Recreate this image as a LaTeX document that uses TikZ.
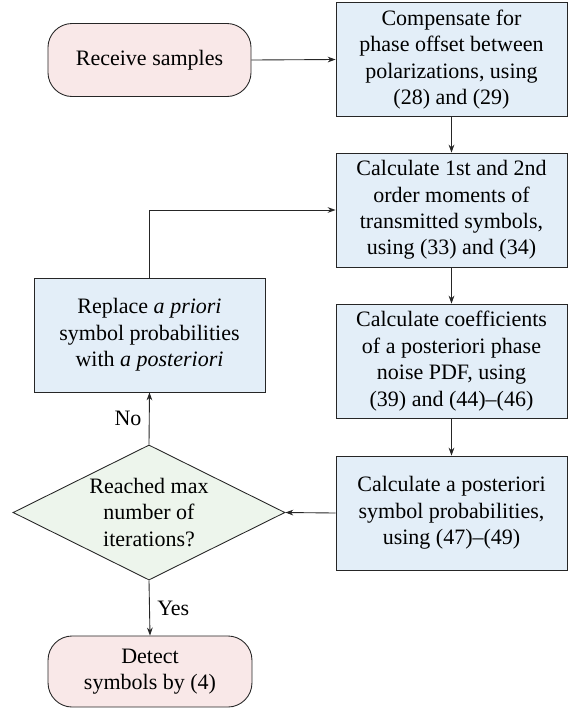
\documentclass[tikz,border=0pt]{standalone}
\usepackage{fontspec}
\setmainfont{Liberation Serif}
\usetikzlibrary{shapes.geometric,arrows.meta}
\definecolor{pinkfill}{RGB}{249,232,232}
\definecolor{bluefill}{RGB}{227,238,248}
\definecolor{greenfill}{RGB}{237,245,236}
\begin{document}
\begin{tikzpicture}[x=0.4545pt,y=-0.4545pt,
  proc/.style={draw=black!85, fill=bluefill, rectangle, align=center, inner sep=0pt,
     minimum width=105pt, minimum height=51.8pt},
  term/.style={draw=black!85, fill=pinkfill, rectangle, rounded corners=11pt, align=center, inner sep=0pt},
  decis/.style={draw=black!85, fill=greenfill, diamond, aspect=2, align=center, inner sep=0pt,
     minimum width=123.6pt, minimum height=61.4pt},
  arr/.style={draw=black!85, -{Stealth[length=3.6pt,width=2.6pt]}},
  lbl/.style={font=\normalsize}]
\useasboundingbox (0,0) rectangle (575,710);
\node[term, minimum width=92.3pt, minimum height=33.2pt] (recv) at (149.5,60) {Receive samples};
\node[proc] (b1) at (451.5,59.5) {Compensate for\\phase offset between\\polarizations, using\\(28) and (29)};
\node[proc] (b2) at (451.5,210) {Calculate 1st and 2nd\\order moments of\\transmitted symbols,\\using (33) and (34)};
\node[proc] (b3) at (451.5,361) {Calculate coefficients\\of a posteriori phase\\noise PDF, using\\(39) and (44)--(46)};
\node[proc] (b4) at (451.5,513) {Calculate a posteriori\\symbol probabilities,\\using (47)--(49)};
\node[proc] (rep) at (149.5,335) {Replace \emph{a priori}\\symbol probabilities\\with \emph{a posteriori}};
\node[decis] (dia) at (149,512.5) {Reached max\\number of\\iterations?};
\node[term, minimum width=92.7pt, minimum height=32.3pt] (det) at (150,671.5) {Detect\\symbols by (4)};
\draw[arr] (recv.east) -- (b1.west);
\draw[arr] (b1.south) -- (b2.north);
\draw[arr] (b2.south) -- (b3.north);
\draw[arr] (b3.south) -- (b4.north);
\draw[arr] (b4.west) -- (dia.east);
\draw[arr] (dia.north) -- node[lbl, left, pos=0.5] (nolbl) {No} (rep.south);
\draw[arr] (rep.north) |- (b2.west);
\draw[arr] (dia.south) -- node[lbl, right, pos=0.5] (yeslbl) {Yes} (det.north);
\end{tikzpicture}
\end{document}
